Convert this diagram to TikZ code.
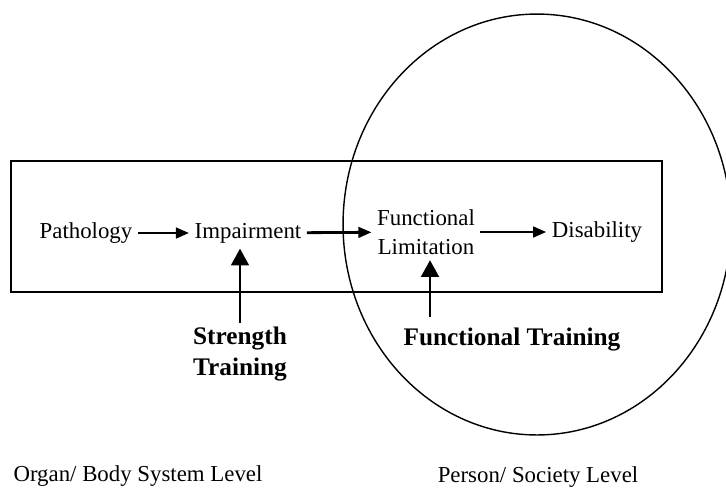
\documentclass[tikz,border=0pt]{standalone}
\usepackage{fontspec}
\setmainfont{Liberation Serif}
\usetikzlibrary{arrows.meta}

\begin{document}
\begin{tikzpicture}[x=0.02cm, y=-0.02cm, >=Stealth]
\tikzset{
    stage/.style={font=\fontsize{13}{16.5}\selectfont, inner sep=3pt, align=center},
    train/.style={font=\fontsize{14.4}{17.5}\selectfont\bfseries, inner sep=2pt, align=center},
    level/.style={font=\fontsize{13}{15}\selectfont},
    flow/.style={-{Triangle[length=7.5pt, width=6pt]}, line width=1.6pt},
    push/.style={-{Triangle[length=9.5pt, width=10pt]}, line width=1.6pt},
}
\useasboundingbox (0,0) rectangle (726,488);

% === Marcos: sistema y persona ===
\draw[line width=0.9pt] (11,161) rectangle (662,292);
\draw[line width=0.8pt] (537,224.5) ellipse [x radius=3.88cm, y radius=4.21cm];

% === Etapas ===
\node[stage] (patho)  at (86,233)  {Pathology};
\node[stage] (impair) at (248,233) {Impairment};
\node[stage] (funlim) at (426,232) {Functional\\Limitation};
\node[stage] (disab)  at (597,232) {Disability};

\draw[flow] (patho) -- (impair);
\draw[flow] (impair) -- (funlim);
\draw[flow] (funlim) -- (disab);

% === Entrenamiento ===
\node[train] (strength) at (240,354) {Strength\\Training};
\node[train] (funtrain) at (512,340) {Functional Training};
\coordinate (ftail) at (430,317);

\draw[push] (strength.north) -- (strength.north |- impair.south);
\draw[push] (ftail) -- (ftail |- funlim.south);

% === Niveles ===
\node[level] (organ)  at (138,476) {Organ/ Body System Level};
\node[level] (person) at (538,477) {Person/ Society Level};

\end{tikzpicture}
\end{document}
